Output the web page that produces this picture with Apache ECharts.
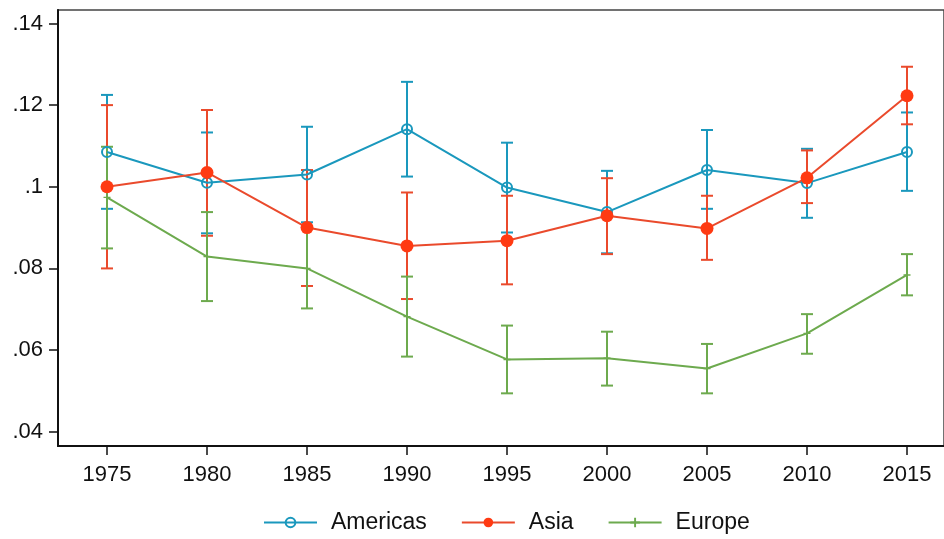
<!DOCTYPE html>
<html>
<head>
<meta charset="utf-8">
<script src="https://cdn.jsdelivr.net/npm/echarts@6/dist/echarts.min.js"></script>
<style>html,body{margin:0;padding:0;background:#fff}#c{width:944px;height:539px}</style>
</head>
<body>
<div id="c"></div>
<script>
const years = [1975, 1980, 1985, 1990, 1995, 2000, 2005, 2010, 2015];
const yTicks = [0.04, 0.06, 0.08, 0.10, 0.12, 0.14];

const americas    = [0.1085, 0.1010, 0.1030, 0.1141, 0.0998, 0.0938, 0.1041, 0.1009, 0.1085];
const americasLow = [0.0946, 0.0886, 0.0913, 0.1025, 0.0888, 0.0837, 0.0946, 0.0924, 0.0990];
const americasHigh= [0.1225, 0.1133, 0.1147, 0.1257, 0.1108, 0.1039, 0.1139, 0.1093, 0.1182];

const asia     = [0.1000, 0.1035, 0.0900, 0.0855, 0.0868, 0.0929, 0.0898, 0.1022, 0.1223];
const asiaLow  = [0.0800, 0.0880, 0.0757, 0.0725, 0.0761, 0.0835, 0.0821, 0.0960, 0.1153];
const asiaHigh = [0.1200, 0.1188, 0.1041, 0.0986, 0.0978, 0.1021, 0.0978, 0.1089, 0.1294];

const europe     = [0.0974, 0.0829, 0.0800, 0.0682, 0.0577, 0.0580, 0.0555, 0.0641, 0.0784];
const europeLow  = [0.0849, 0.0720, 0.0702, 0.0584, 0.0494, 0.0513, 0.0494, 0.0591, 0.0734];
const europeHigh = [0.1098, 0.0938, 0.0898, 0.0780, 0.0660, 0.0645, 0.0615, 0.0688, 0.0835];

const C_BLUE = '#1a98bd', C_RED = '#ea4a2c', C_RED_M = '#ff3a12', C_GREEN = '#6daa4e';
const FONT = 'Liberation Sans, Arial, sans-serif';

function pts(vals){ return years.map((y,i)=>[y, vals[i]]); }
function bars(lo, hi){ return years.map((y,i)=>[y, lo[i], hi[i]]); }

function errSeries(name, lo, hi, color){
  return {
    type: 'custom', name: name + ' CI', data: bars(lo, hi),
    encode: {x: 0, y: [1, 2]},
    silent: true, legendHoverLink: false,
    itemStyle: {color: color},
    renderItem: function(params, api){
      const x = api.value(0);
      const a = api.coord([x, api.value(1)]);
      const b = api.coord([x, api.value(2)]);
      const w = 6;
      const st = {stroke: color, lineWidth: 2, fill: null};
      return {type: 'group', children: [
        {type:'line', shape:{x1:a[0], y1:a[1], x2:b[0], y2:b[1]}, style: st},
        {type:'line', shape:{x1:a[0]-w, y1:a[1], x2:a[0]+w, y2:a[1]}, style: st},
        {type:'line', shape:{x1:b[0]-w, y1:b[1], x2:b[0]+w, y2:b[1]}, style: st}
      ]};
    }
  };
}

const plusPath = 'path://M4,0 L6,0 L6,4 L10,4 L10,6 L6,6 L6,10 L4,10 L4,6 L0,6 L0,4 L4,4 Z';

const chart = echarts.init(document.getElementById('c'));
chart.setOption({
  animation: false,
  backgroundColor: '#fff',
  grid: {left: 58, right: 0, top: 10, bottom: 93, show: true, borderColor: '#444', borderWidth: 1.5, backgroundColor: '#fff'},
  xAxis: {
    type: 'value', min: 1972.55, max: 2016.85,
    splitLine: {show: false},
    axisLine: {show: true, lineStyle: {color: '#111', width: 2}},
    axisTick: {show: true, length: 9, lineStyle: {color: '#111', width: 1.5}, customValues: years},
    axisLabel: {color: '#111', fontSize: 22, fontFamily: FONT, margin: 18, customValues: years, formatter: v => String(v)}
  },
  yAxis: {
    type: 'value', min: 0.0365, max: 0.1433,
    splitLine: {show: false},
    axisLine: {show: true, lineStyle: {color: '#111', width: 2}},
    axisTick: {show: true, length: 9, lineStyle: {color: '#111', width: 1.5}, customValues: yTicks},
    axisLabel: {color: '#111', fontSize: 22, fontFamily: FONT, margin: 15, customValues: yTicks,
      formatter: v => { let s = (+v.toFixed(2)).toString(); return s.replace(/^0/, ''); }}
  },
  legend: {
    left: 258, top: 506, itemWidth: 53, itemHeight: 12, itemGap: 34,
    textStyle: {color: '#111', fontSize: 23, fontFamily: FONT, padding: [0,0,0,9]},
    data: ['Americas', 'Asia', 'Europe']
  },
  series: [
    errSeries('Americas', americasLow, americasHigh, C_BLUE),
    {type: 'line', name: 'Americas', data: pts(americas), symbol: 'circle', symbolSize: 10,
     lineStyle: {color: C_BLUE, width: 2}, itemStyle: {color: 'rgba(255,255,255,0)', borderColor: C_BLUE, borderWidth: 2}},
    errSeries('Asia', asiaLow, asiaHigh, C_RED),
    {type: 'line', name: 'Asia', data: pts(asia), symbol: 'circle', symbolSize: 13,
     lineStyle: {color: C_RED, width: 2}, itemStyle: {color: C_RED_M}},
    errSeries('Europe', europeLow, europeHigh, C_GREEN),
    {type: 'line', name: 'Europe', data: pts(europe), symbol: plusPath, symbolSize: 7,
     lineStyle: {color: C_GREEN, width: 2}, itemStyle: {color: C_GREEN}}
  ]
});
</script>
</body>
</html>
